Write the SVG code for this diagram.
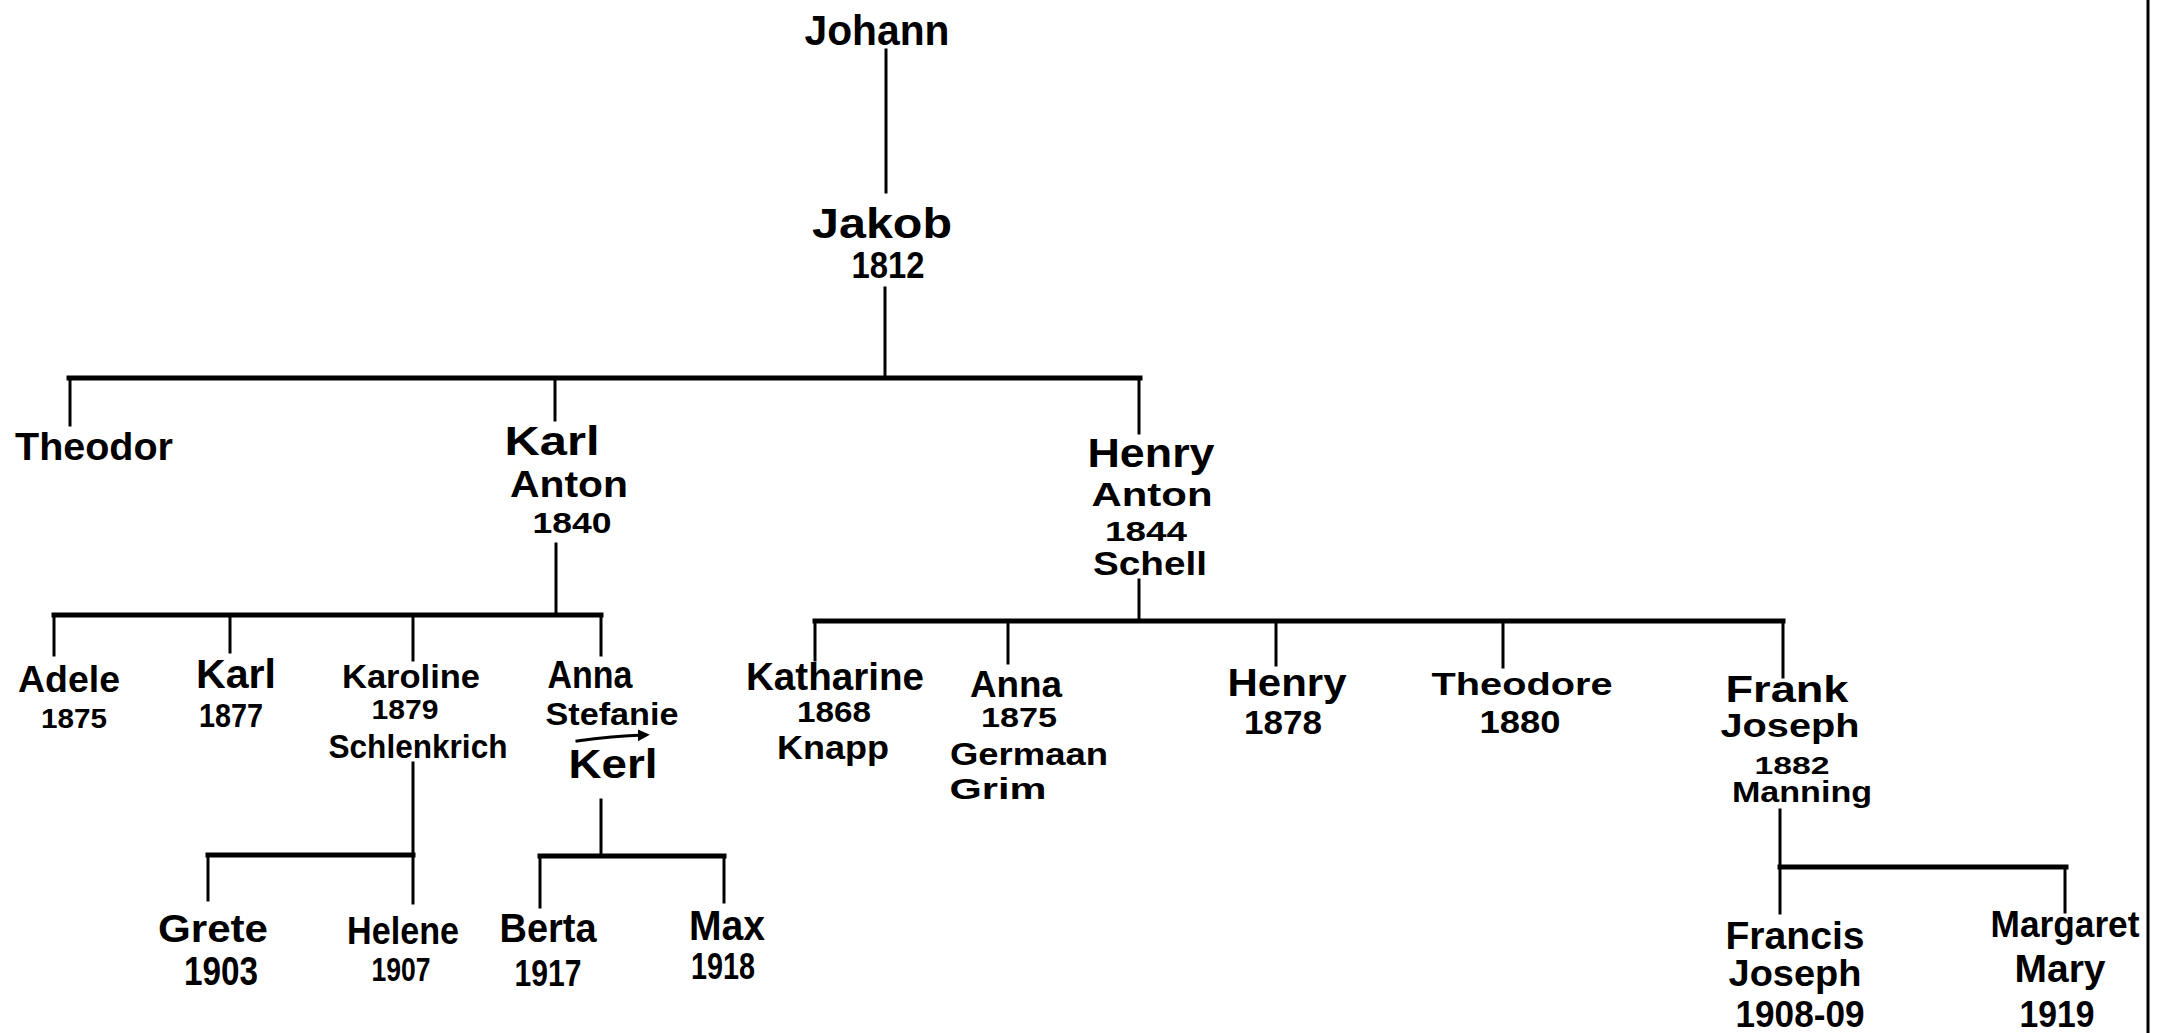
<svg xmlns="http://www.w3.org/2000/svg" width="2165" height="1033" viewBox="0 0 2165 1033">
  <style>
    .t { font-family: "Liberation Sans", Arial, sans-serif; font-weight: bold; text-anchor: middle; fill: #000; }
    .ln { stroke: #000; stroke-width: 3; fill: none; stroke-linecap: square; }
    .bar { stroke: #000; stroke-width: 5; fill: none; stroke-linecap: square; }
  </style>
  <defs>
    <marker id="arrowhead" viewBox="0 0 10 10" refX="6" refY="5" markerWidth="4" markerHeight="4" orient="auto">
      <path d="M0,0 L10,5 L0,10 Z" fill="#000"/>
    </marker>
  </defs>
  <rect width="2165" height="1033" fill="#fff"/>

  <!-- connectors -->
  <g id="connectors">
    <line class="ln" x1="886" y1="50" x2="886" y2="192"/>
    <line class="ln" x1="885" y1="288" x2="885" y2="378"/>
    <line class="bar" x1="69" y1="378" x2="1140" y2="378"/>
    <line class="ln" x1="70" y1="378" x2="70" y2="425"/>
    <line class="ln" x1="555" y1="378" x2="555" y2="420"/>
    <line class="ln" x1="1139" y1="378" x2="1139" y2="433"/>

    <line class="ln" x1="556" y1="544" x2="556" y2="615"/>
    <line class="bar" x1="54" y1="615" x2="601" y2="615"/>
    <line class="ln" x1="54" y1="615" x2="54" y2="655"/>
    <line class="ln" x1="230" y1="615" x2="230" y2="652"/>
    <line class="ln" x1="413" y1="615" x2="413" y2="660"/>
    <line class="ln" x1="601" y1="615" x2="601" y2="655"/>

    <line class="ln" x1="413" y1="763" x2="413" y2="903"/>
    <line class="bar" x1="208" y1="855" x2="413" y2="855"/>
    <line class="ln" x1="208" y1="855" x2="208" y2="900"/>

    <line class="ln" x1="601" y1="800" x2="601" y2="856"/>
    <line class="bar" x1="540" y1="856" x2="724" y2="856"/>
    <line class="ln" x1="540" y1="856" x2="540" y2="907"/>
    <line class="ln" x1="724" y1="856" x2="724" y2="902"/>

    <line class="ln" x1="1139" y1="580" x2="1139" y2="621"/>
    <line class="bar" x1="815" y1="621" x2="1783" y2="621"/>
    <line class="ln" x1="815" y1="621" x2="815" y2="660"/>
    <line class="ln" x1="1008" y1="621" x2="1008" y2="663"/>
    <line class="ln" x1="1276" y1="621" x2="1276" y2="665"/>
    <line class="ln" x1="1503" y1="621" x2="1503" y2="667"/>
    <line class="ln" x1="1783" y1="621" x2="1783" y2="677"/>

    <line class="ln" x1="1780" y1="810" x2="1780" y2="913"/>
    <line class="bar" x1="1780" y1="867" x2="2066" y2="867"/>
    <line class="ln" x1="2065" y1="867" x2="2065" y2="912"/>

    <!-- arrow under Stefanie -->
    <path class="ln" d="M577,741 Q612,736 645,735" marker-end="url(#arrowhead)"/>

    <!-- page edge -->
    <line class="ln" x1="2148" y1="0" x2="2148" y2="1033"/>
  </g>

  <g id="johann">
    <text class="t" x="877" y="45" font-size="42" textLength="145" lengthAdjust="spacingAndGlyphs">Johann</text>
  </g>
  <g id="jakob">
    <text class="t" x="882" y="238" font-size="42" textLength="140" lengthAdjust="spacingAndGlyphs">Jakob</text>
    <text class="t" x="888" y="278" font-size="36" textLength="73" lengthAdjust="spacingAndGlyphs">1812</text>
  </g>

  <g id="theodor">
    <text class="t" x="94" y="460" font-size="38" textLength="158" lengthAdjust="spacingAndGlyphs">Theodor</text>
  </g>
  <g id="karl-anton">
    <text class="t" x="552" y="455" font-size="40" textLength="95" lengthAdjust="spacingAndGlyphs">Karl</text>
    <text class="t" x="569" y="497" font-size="36" textLength="118" lengthAdjust="spacingAndGlyphs">Anton</text>
    <text class="t" x="572" y="533" font-size="30" textLength="79" lengthAdjust="spacingAndGlyphs">1840</text>
  </g>
  <g id="henry-anton">
    <text class="t" x="1151" y="467" font-size="40" textLength="127" lengthAdjust="spacingAndGlyphs">Henry</text>
    <text class="t" x="1152" y="506" font-size="34" textLength="121" lengthAdjust="spacingAndGlyphs">Anton</text>
    <text class="t" x="1146" y="541" font-size="28" textLength="82" lengthAdjust="spacingAndGlyphs">1844</text>
    <text class="t" x="1150" y="575" font-size="33" textLength="114" lengthAdjust="spacingAndGlyphs">Schell</text>
  </g>

  <g id="adele">
    <text class="t" x="69" y="692" font-size="36" textLength="102" lengthAdjust="spacingAndGlyphs">Adele</text>
    <text class="t" x="74" y="728" font-size="28" textLength="66" lengthAdjust="spacingAndGlyphs">1875</text>
  </g>
  <g id="karl">
    <text class="t" x="236" y="688" font-size="40" textLength="80" lengthAdjust="spacingAndGlyphs">Karl</text>
    <text class="t" x="231" y="727" font-size="34" textLength="64" lengthAdjust="spacingAndGlyphs">1877</text>
  </g>
  <g id="karoline">
    <text class="t" x="411" y="688" font-size="34" textLength="138" lengthAdjust="spacingAndGlyphs">Karoline</text>
    <text class="t" x="405" y="719" font-size="28" textLength="67" lengthAdjust="spacingAndGlyphs">1879</text>
    <text class="t" x="418" y="758" font-size="34" textLength="179" lengthAdjust="spacingAndGlyphs">Schlenkrich</text>
  </g>
  <g id="anna-stefanie">
    <text class="t" x="590" y="688" font-size="38" textLength="85" lengthAdjust="spacingAndGlyphs">Anna</text>
    <text class="t" x="612" y="725" font-size="32" textLength="133" lengthAdjust="spacingAndGlyphs">Stefanie</text>
    <text class="t" x="613" y="778" font-size="40" textLength="89" lengthAdjust="spacingAndGlyphs">Kerl</text>
  </g>

  <g id="grete">
    <text class="t" x="213" y="942" font-size="38" textLength="110" lengthAdjust="spacingAndGlyphs">Grete</text>
    <text class="t" x="221" y="985" font-size="40" textLength="74" lengthAdjust="spacingAndGlyphs">1903</text>
  </g>
  <g id="helene">
    <text class="t" x="403" y="944" font-size="38" textLength="112" lengthAdjust="spacingAndGlyphs">Helene</text>
    <text class="t" x="401" y="981" font-size="33" textLength="59" lengthAdjust="spacingAndGlyphs">1907</text>
  </g>
  <g id="berta">
    <text class="t" x="548" y="942" font-size="40" textLength="97" lengthAdjust="spacingAndGlyphs">Berta</text>
    <text class="t" x="548" y="986" font-size="36" textLength="67" lengthAdjust="spacingAndGlyphs">1917</text>
  </g>
  <g id="max">
    <text class="t" x="727" y="940" font-size="42" textLength="76" lengthAdjust="spacingAndGlyphs">Max</text>
    <text class="t" x="723" y="979" font-size="36" textLength="64" lengthAdjust="spacingAndGlyphs">1918</text>
  </g>

  <g id="katharine">
    <text class="t" x="835" y="690" font-size="38" textLength="178" lengthAdjust="spacingAndGlyphs">Katharine</text>
    <text class="t" x="834" y="722" font-size="30" textLength="74" lengthAdjust="spacingAndGlyphs">1868</text>
    <text class="t" x="833" y="759" font-size="34" textLength="112" lengthAdjust="spacingAndGlyphs">Knapp</text>
  </g>
  <g id="anna">
    <text class="t" x="1016" y="697" font-size="36" textLength="92" lengthAdjust="spacingAndGlyphs">Anna</text>
    <text class="t" x="1019" y="727" font-size="28" textLength="76" lengthAdjust="spacingAndGlyphs">1875</text>
    <text class="t" x="1029" y="765" font-size="32" textLength="158" lengthAdjust="spacingAndGlyphs">Germaan</text>
    <text class="t" x="998" y="799" font-size="30" textLength="97" lengthAdjust="spacingAndGlyphs">Grim</text>
  </g>
  <g id="henry">
    <text class="t" x="1287" y="696" font-size="38" textLength="119" lengthAdjust="spacingAndGlyphs">Henry</text>
    <text class="t" x="1283" y="734" font-size="34" textLength="78" lengthAdjust="spacingAndGlyphs">1878</text>
  </g>
  <g id="theodore">
    <text class="t" x="1522" y="695" font-size="32" textLength="181" lengthAdjust="spacingAndGlyphs">Theodore</text>
    <text class="t" x="1520" y="733" font-size="32" textLength="81" lengthAdjust="spacingAndGlyphs">1880</text>
  </g>
  <g id="frank-joseph">
    <text class="t" x="1787" y="702" font-size="36" textLength="123" lengthAdjust="spacingAndGlyphs">Frank</text>
    <text class="t" x="1790" y="737" font-size="33" textLength="139" lengthAdjust="spacingAndGlyphs">Joseph</text>
    <text class="t" x="1792" y="774" font-size="24" textLength="75" lengthAdjust="spacingAndGlyphs">1882</text>
    <text class="t" x="1802" y="802" font-size="29" textLength="140" lengthAdjust="spacingAndGlyphs">Manning</text>
  </g>

  <g id="francis-joseph">
    <text class="t" x="1795" y="949" font-size="38" textLength="139" lengthAdjust="spacingAndGlyphs">Francis</text>
    <text class="t" x="1795" y="986" font-size="36" textLength="133" lengthAdjust="spacingAndGlyphs">Joseph</text>
    <text class="t" x="1800" y="1027" font-size="36" textLength="129" lengthAdjust="spacingAndGlyphs">1908-09</text>
  </g>
  <g id="margaret-mary">
    <text class="t" x="2065" y="937" font-size="36" textLength="149" lengthAdjust="spacingAndGlyphs">Margaret</text>
    <text class="t" x="2060" y="982" font-size="38" textLength="91" lengthAdjust="spacingAndGlyphs">Mary</text>
    <text class="t" x="2057" y="1027" font-size="36" textLength="75" lengthAdjust="spacingAndGlyphs">1919</text>
  </g>
</svg>
